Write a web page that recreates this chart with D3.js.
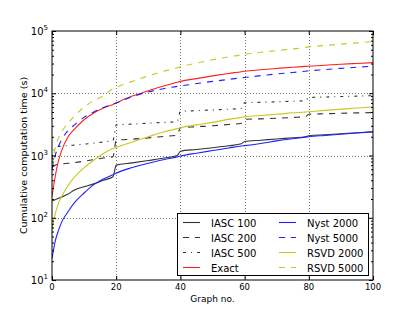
<!DOCTYPE html>
<html>
<head>
<meta charset="utf-8">
<script src="https://cdnjs.cloudflare.com/ajax/libs/d3/7.8.5/d3.min.js"></script>
<style>
  body { margin: 0; background: #fff; }
  svg { display: block; font-family: "DejaVu Sans", sans-serif; }
</style>
</head>
<body>
<svg id="chart" width="415" height="312"></svg>
<script>
// graph index where each series was sampled
var graphNo = [0, 1, 2, 3, 5, 7, 10, 13, 16, 19, 20, 25, 30, 35, 39, 40, 45, 50, 55, 59, 60, 65, 70, 75, 79, 80, 85, 90, 95, 100];

// cumulative computation time (s)
var iasc100 = [185, 195, 205, 215, 240, 280, 315, 350, 400, 455, 700, 760, 830, 910, 1000, 1170, 1250, 1330, 1430, 1540, 1680, 1760, 1840, 1930, 2000, 2080, 2160, 2240, 2320, 2410];
var iasc200 = [650, 700, 720, 730, 750, 770, 810, 860, 910, 960, 1750, 1830, 1920, 2030, 2120, 2800, 2900, 3000, 3150, 3300, 3800, 3880, 3960, 4080, 4200, 4600, 4680, 4760, 4830, 4900];
var iasc500 = [900, 1350, 1400, 1420, 1440, 1470, 1520, 1580, 1650, 1750, 3100, 3200, 3300, 3400, 3500, 5100, 5250, 5400, 5550, 5700, 7000, 7150, 7300, 7450, 7600, 8500, 8700, 8850, 9000, 9150];
var exact = [220, 460, 820, 1200, 2000, 2650, 3750, 4800, 5800, 6600, 7000, 9000, 11000, 13200, 15000, 15500, 17200, 19000, 20800, 22200, 22600, 23800, 25000, 26200, 27000, 27200, 28200, 29200, 30100, 31000];
var nyst2000 = [22, 42, 62, 85, 125, 175, 250, 340, 420, 490, 520, 640, 750, 860, 950, 980, 1090, 1200, 1320, 1420, 1440, 1560, 1720, 1860, 1970, 2000, 2100, 2200, 2300, 2400];
var nyst5000 = [600, 1000, 1400, 1800, 2500, 3100, 4100, 5000, 5900, 6700, 7000, 8800, 10500, 11900, 12900, 13100, 14300, 15500, 16700, 17700, 17900, 19200, 20400, 21600, 22600, 22900, 24000, 25100, 26200, 27200];
var rsvd2000 = [65, 115, 170, 220, 330, 450, 640, 840, 1080, 1300, 1350, 1650, 2000, 2400, 2700, 2800, 3100, 3400, 3800, 4100, 4170, 4400, 4600, 4850, 5000, 5050, 5300, 5550, 5800, 6000];
var rsvd5000 = [700, 1300, 1900, 2400, 3300, 4300, 6000, 7600, 9100, 11800, 12400, 15500, 19000, 22700, 25600, 26500, 30500, 34500, 38500, 41500, 42500, 45500, 48500, 51500, 54500, 55600, 58500, 61500, 64500, 67600];

var seriesNames = ["IASC 100", "IASC 200", "IASC 500", "Exact", "Nyst 2000", "Nyst 5000", "RSVD 2000", "RSVD 5000"];

var xTicks = [0, 20, 40, 60, 80, 100];
var yTicks = [10, 100, 1000, 10000, 100000];

var svg = d3.select("#chart");
var margin = { top: 31, right: 42, bottom: 32, left: 52 };
var width = 415 - margin.left - margin.right;
var height = 312 - margin.top - margin.bottom;

var x = d3.scaleLinear().domain([0, 100]).range([0, width]);
var y = d3.scaleLog().domain([10, 100000]).range([height, 0]);

var styles = [
  { color: "#333", dash: null },
  { color: "#333", dash: "6,6" },
  { color: "#333", dash: "3,5,1,5" },
  { color: "#ff2020", dash: null },
  { color: "#2020ff", dash: null },
  { color: "#2020ff", dash: "6,6" },
  { color: "#c8c820", dash: null },
  { color: "#c8c820", dash: "6,6" }
];
var allValues = [iasc100, iasc200, iasc500, exact, nyst2000, nyst5000, rsvd2000, rsvd5000];
var series = seriesNames.map(function (name, i) {
  return { name: name, values: allValues[i], color: styles[i].color, dash: styles[i].dash };
});

var g = svg.append("g")
  .attr("transform", "translate(" + margin.left + "," + margin.top + ")");

// grid
g.append("g")
  .selectAll("line.gx")
  .data(xTicks.slice(1, -1))
  .enter().append("line")
  .attr("x1", function (d) { return Math.round(x(d)) + 0.5; })
  .attr("x2", function (d) { return Math.round(x(d)) + 0.5; })
  .attr("y1", 0).attr("y2", height)
  .attr("stroke", "#777").attr("stroke-dasharray", "1,2");

g.append("g")
  .selectAll("line.gy")
  .data(yTicks.slice(1, -1))
  .enter().append("line")
  .attr("y1", function (d) { return Math.round(y(d)) + 0.5; })
  .attr("y2", function (d) { return Math.round(y(d)) + 0.5; })
  .attr("x1", 0).attr("x2", width)
  .attr("stroke", "#777").attr("stroke-dasharray", "1,2");

g.append("clipPath").attr("id", "clip")
  .append("rect").attr("width", width).attr("height", height);

var line = d3.line()
  .x(function (d, i) { return x(graphNo[i]); })
  .y(function (d) { return y(d); })
  .curve(d3.curveMonotoneX);

g.append("g").attr("clip-path", "url(#clip)")
  .selectAll("path")
  .data(series)
  .enter().append("path")
  .attr("d", function (d) { return line(d.values); })
  .attr("fill", "none")
  .attr("stroke", function (d) { return d.color; })
  .attr("stroke-width", 1.1)
  .attr("stroke-dasharray", function (d) { return d.dash; });

// minor ticks for the log axis
var minor = [];
yTicks.slice(0, -1).forEach(function (t) {
  for (var k = 2; k < 10; k++) minor.push(t * k);
});

// axes, ticks pointing inwards on all sides
function yAxis(axisFn, size, values) {
  return axisFn(y).tickValues(values).tickSize(size).tickFormat("");
}
g.append("g").call(yAxis(d3.axisLeft, -4, yTicks));
g.append("g").call(yAxis(d3.axisLeft, -2, minor));
g.append("g").attr("transform", "translate(" + width + ",0)").call(yAxis(d3.axisRight, -4, yTicks));
g.append("g").attr("transform", "translate(" + width + ",0)").call(yAxis(d3.axisRight, -2, minor));
g.append("g").attr("transform", "translate(0," + height + ")")
  .call(d3.axisBottom(x).tickValues(xTicks).tickSize(-4).tickFormat(""));
g.append("g")
  .call(d3.axisTop(x).tickValues(xTicks).tickSize(-4).tickFormat(""));
g.selectAll(".domain").remove();
g.selectAll(".tick line").attr("stroke", "#000");

g.append("rect")
  .attr("x", 0).attr("y", 0).attr("width", width).attr("height", height)
  .attr("fill", "none").attr("stroke", "#000").attr("stroke-width", 1);

// tick labels
g.selectAll("text.xl")
  .data(xTicks)
  .enter().append("text")
  .attr("x", function (d) { return x(d); })
  .attr("y", height + 9.5)
  .attr("text-anchor", "middle")
  .attr("font-size", 8.5)
  .text(function (d) { return d; });

var yl = g.selectAll("text.yl")
  .data(yTicks)
  .enter().append("text")
  .attr("x", -4)
  .attr("y", function (d) { return y(d) + 4; })
  .attr("text-anchor", "end")
  .attr("font-size", 10);
yl.append("tspan").text("10");
yl.append("tspan").attr("dy", -5).attr("font-size", 7)
  .text(function (d) { return Math.round(Math.log10(d)); });

// axis titles
g.append("text")
  .attr("x", width / 2).attr("y", height + 21.5)
  .attr("text-anchor", "middle").attr("font-size", 9)
  .text("Graph no.");
g.append("text")
  .attr("transform", "translate(-25," + (height / 2) + ") rotate(-90)")
  .attr("text-anchor", "middle").attr("font-size", 9.5)
  .text("Cumulative computation time (s)");

// legend
var lg = g.append("g").attr("transform", "translate(125,182)");
lg.append("rect")
  .attr("x", 0.5).attr("y", 0.5).attr("width", 191).attr("height", 62)
  .attr("fill", "#fff").attr("stroke", "#000");
var item = lg.selectAll("g.item")
  .data(series)
  .enter().append("g")
  .attr("transform", function (d, i) {
    return "translate(" + (i < 4 ? 6 : 102) + "," + (9.5 + (i % 4) * 15) + ")";
  });
item.append("line")
  .attr("x1", 0).attr("x2", 17)
  .attr("stroke", function (d) { return d.color; })
  .attr("stroke-width", 1.1)
  .attr("stroke-dasharray", function (d) { return d.dash; });
item.append("text")
  .attr("x", 28).attr("y", 4)
  .attr("font-size", 10)
  .text(function (d) { return d.name; });
</script>
</body>
</html>
